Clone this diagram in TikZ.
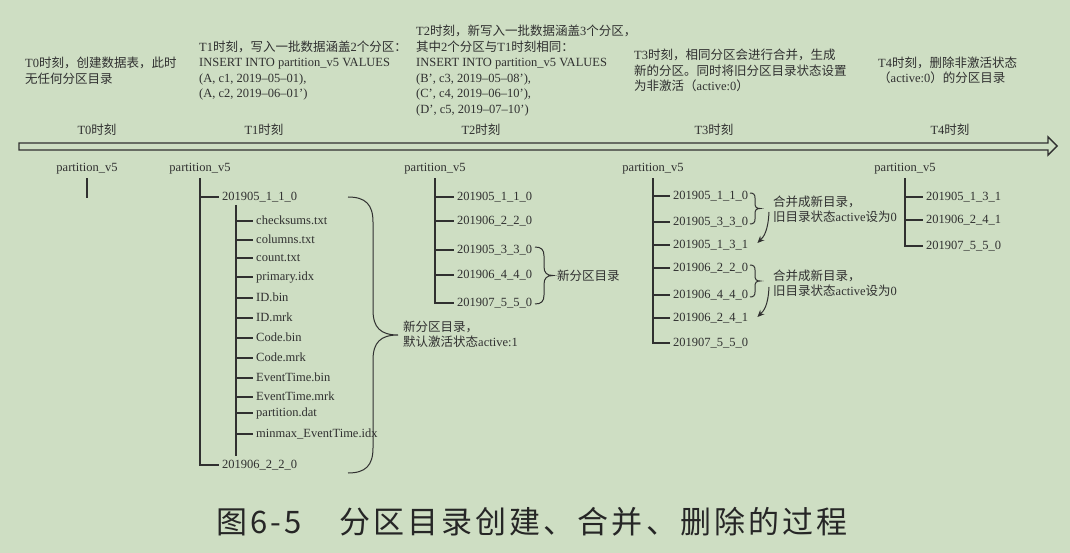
\documentclass[tikz,border=0pt]{standalone}
\usepackage{fontspec}
\setmainfont{Liberation Serif}
\newfontfamily\cjkfont{Noto Sans CJK SC}
\newfontfamily\figcapfont[LetterSpace=10]{Noto Sans CJK SC}
\newcommand{\zh}[1]{{\cjkfont #1}}
\usetikzlibrary{arrows.meta}
\definecolor{paper}{RGB}{206,222,195}
\definecolor{ink}{RGB}{48,48,48}
% curly brace opening to the right: x, top y, bottom y, half width
\newcommand{\curly}[4]{%
  \draw[curly] (#1,#2) .. controls (#1+0.7*#4,#2) and (#1+#4,#2+0.3*#4) .. (#1+#4,#2+#4)
    -- (#1+#4,{(#2+#3)/2-#4}) .. controls (#1+#4,{(#2+#3)/2-0.3*#4}) and (#1+1.3*#4,{(#2+#3)/2}) .. (#1+2*#4,{(#2+#3)/2})
    .. controls (#1+1.3*#4,{(#2+#3)/2}) and (#1+#4,{(#2+#3)/2+0.3*#4}) .. (#1+#4,{(#2+#3)/2+#4})
    -- (#1+#4,#3-#4) .. controls (#1+#4,#3-0.3*#4) and (#1+0.7*#4,#3) .. (#1,#3);}

\begin{document}
\begin{tikzpicture}[
  x=1pt, y=-1pt,
  font=\fontsize{12.5}{15.5}\selectfont, text=ink,
  note/.style={anchor=west, align=left, inner sep=0pt},
  stamp/.style={inner sep=0pt},
  root/.style={inner xsep=0pt, inner ysep=5pt, text height=8.5pt, text depth=1.5pt},
  dir/.style={anchor=west, inner xsep=3pt, inner ysep=0pt, text height=8.5pt, text depth=1.5pt},
  branch/.style={draw=ink, line width=1.1pt},
  curly/.style={draw=ink, line width=1pt},
  merge/.style={-{Stealth[length=7pt,width=6pt]}, line width=1pt, draw=ink},
  timeline/.style={draw=ink, line width=1.4pt, line join=miter}
]
\fill[paper] (0,0) rectangle (1070,553);
\useasboundingbox (0,0) rectangle (1070,553);

% what happens at each moment
\node[note] (n0) at (25,70.5) {T0\zh{时刻，创建数据表，此时}\\\zh{无任何分区目录}};
\node[note] (n1) at (199,70.5) {T1\zh{时刻，写入一批数据涵盖}2\zh{个分区：}\\INSERT INTO partition\_v5 VALUES\\(A, c1, 2019–05–01),\\(A, c2, 2019–06–01’)};
\node[note] (n2) at (416,70.5) {T2\zh{时刻，新写入一批数据涵盖}3\zh{个分区，}\\\zh{其中}2\zh{个分区与}T1\zh{时刻相同：}\\INSERT INTO partition\_v5 VALUES\\(B’, c3, 2019–05–08’),\\(C’, c4, 2019–06–10’),\\(D’, c5, 2019–07–10’)};
\node[note] (n3) at (634,70.5) {T3\zh{时刻，相同分区会进行合并，生成}\\\zh{新的分区。同时将旧分区目录状态设置}\\\zh{为非激活（}active:0\zh{）}};
\node[note] (n4) at (878,70.5) {T4\zh{时刻，删除非激活状态}\\\zh{（}active:0\zh{）的分区目录}};

% time line
\draw[timeline] (19,143) -- (1048,143) -- (1048,137) -- (1057,146) -- (1048,155) -- (1048,150) -- (19,150) -- cycle;
\node[stamp] (s0) at (97,130) {T0\zh{时刻}};
\node[stamp] (s1) at (264,130) {T1\zh{时刻}};
\node[stamp] (s2) at (481,130) {T2\zh{时刻}};
\node[stamp] (s3) at (714,130) {T3\zh{时刻}};
\node[stamp] (s4) at (950,130) {T4\zh{时刻}};

% T0
\node[root] (p0) at (87,168) {partition\_v5};
\coordinate (e0) at (87,198);
\draw[branch] (p0.south) -- (e0);

% T1
\node[root] (p1) at (200,168) {partition\_v5};
\node[dir] (a1) at (219,197) {201905\_1\_1\_0};
\node[dir] (b1) at (219,465) {201906\_2\_2\_0};
\node[dir] (f1) at (253,221) {checksums.txt};
\node[dir] (f2) at (253,240) {columns.txt};
\node[dir] (f3) at (253,258) {count.txt};
\node[dir] (f4) at (253,277) {primary.idx};
\node[dir] (f5) at (253,298) {ID.bin};
\node[dir] (f6) at (253,318) {ID.mrk};
\node[dir] (f7) at (253,338) {Code.bin};
\node[dir] (f8) at (253,358) {Code.mrk};
\node[dir] (f9) at (253,378) {EventTime.bin};
\node[dir] (f10) at (253,397) {EventTime.mrk};
\node[dir] (f11) at (253,413) {partition.dat};
\node[dir] (f12) at (253,434) {minmax\_EventTime.idx};
\coordinate (t1) at (236,205);
\coordinate (t1end) at (236,456);
\draw[branch] (p1.south) |- (b1.west);
\draw[branch] (p1.south |- a1.west) -- (a1.west);
\draw[branch] (t1) -- (t1end);
\draw[branch] (t1 |- f1.west) -- (f1.west);
\draw[branch] (t1 |- f2.west) -- (f2.west);
\draw[branch] (t1 |- f3.west) -- (f3.west);
\draw[branch] (t1 |- f4.west) -- (f4.west);
\draw[branch] (t1 |- f5.west) -- (f5.west);
\draw[branch] (t1 |- f6.west) -- (f6.west);
\draw[branch] (t1 |- f7.west) -- (f7.west);
\draw[branch] (t1 |- f8.west) -- (f8.west);
\draw[branch] (t1 |- f9.west) -- (f9.west);
\draw[branch] (t1 |- f10.west) -- (f10.west);
\draw[branch] (t1 |- f11.west) -- (f11.west);
\draw[branch] (t1 |- f12.west) -- (f12.west);
\curly{348}{197}{473}{25}
\node[note] (g1) at (403,334) {\zh{新分区目录，}\\\zh{默认激活状态}active:1};

% T2
\node[root] (p2) at (435,168) {partition\_v5};
\node[dir] (c1) at (454,197) {201905\_1\_1\_0};
\node[dir] (c2) at (454,221) {201906\_2\_2\_0};
\node[dir] (c3) at (454,250) {201905\_3\_3\_0};
\node[dir] (c4) at (454,275) {201906\_4\_4\_0};
\node[dir] (c5) at (454,303) {201907\_5\_5\_0};
\draw[branch] (p2.south) |- (c5.west);
\draw[branch] (p2.south |- c1.west) -- (c1.west);
\draw[branch] (p2.south |- c2.west) -- (c2.west);
\draw[branch] (p2.south |- c3.west) -- (c3.west);
\draw[branch] (p2.south |- c4.west) -- (c4.west);
\curly{535}{247}{304}{9}
\node[note] (g2) at (557,276) {\zh{新分区目录}};

% T3
\node[root] (p3) at (653,168) {partition\_v5};
\node[dir] (d1) at (670,196) {201905\_1\_1\_0};
\node[dir] (d2) at (670,222) {201905\_3\_3\_0};
\node[dir] (d3) at (670,245) {201905\_1\_3\_1};
\node[dir] (d4) at (670,268) {201906\_2\_2\_0};
\node[dir] (d5) at (670,295) {201906\_4\_4\_0};
\node[dir] (d6) at (670,318) {201906\_2\_4\_1};
\node[dir] (d7) at (670,343) {201907\_5\_5\_0};
\draw[branch] (p3.south) |- (d7.west);
\draw[branch] (p3.south |- d1.west) -- (d1.west);
\draw[branch] (p3.south |- d2.west) -- (d2.west);
\draw[branch] (p3.south |- d3.west) -- (d3.west);
\draw[branch] (p3.south |- d4.west) -- (d4.west);
\draw[branch] (p3.south |- d5.west) -- (d5.west);
\draw[branch] (p3.south |- d6.west) -- (d6.west);
\curly{750}{193}{224}{5}
\curly{750}{265}{297}{5}
\node[note] (m1) at (773,209) {\zh{合并成新目录，}\\\zh{旧目录状态}active\zh{设为}0};
\node[note] (m2) at (773,283) {\zh{合并成新目录，}\\\zh{旧目录状态}active\zh{设为}0};
\draw[merge] ([xshift=-4pt,yshift=-3pt]m1.west) .. controls +(-1,20) and +(6,-6) .. ([xshift=6pt,yshift=2pt]d3.east);
\draw[merge] ([xshift=-4pt,yshift=-4pt]m2.west) .. controls +(-1,20) and +(6,-6) .. ([xshift=6pt,yshift=1pt]d6.east);

% T4
\node[root] (p4) at (905,168) {partition\_v5};
\node[dir] (e1) at (923,197) {201905\_1\_3\_1};
\node[dir] (e2) at (923,220) {201906\_2\_4\_1};
\node[dir] (e3) at (923,246) {201907\_5\_5\_0};
\draw[branch] (p4.south) |- (e3.west);
\draw[branch] (p4.south |- e1.west) -- (e1.west);
\draw[branch] (p4.south |- e2.west) -- (e2.west);

% caption
\node[text=black!85, font=\figcapfont\fontsize{31}{31}\selectfont] (cap) at (532,522) {图6-5　分区目录创建、合并、删除的过程};
\end{tikzpicture}
\end{document}
